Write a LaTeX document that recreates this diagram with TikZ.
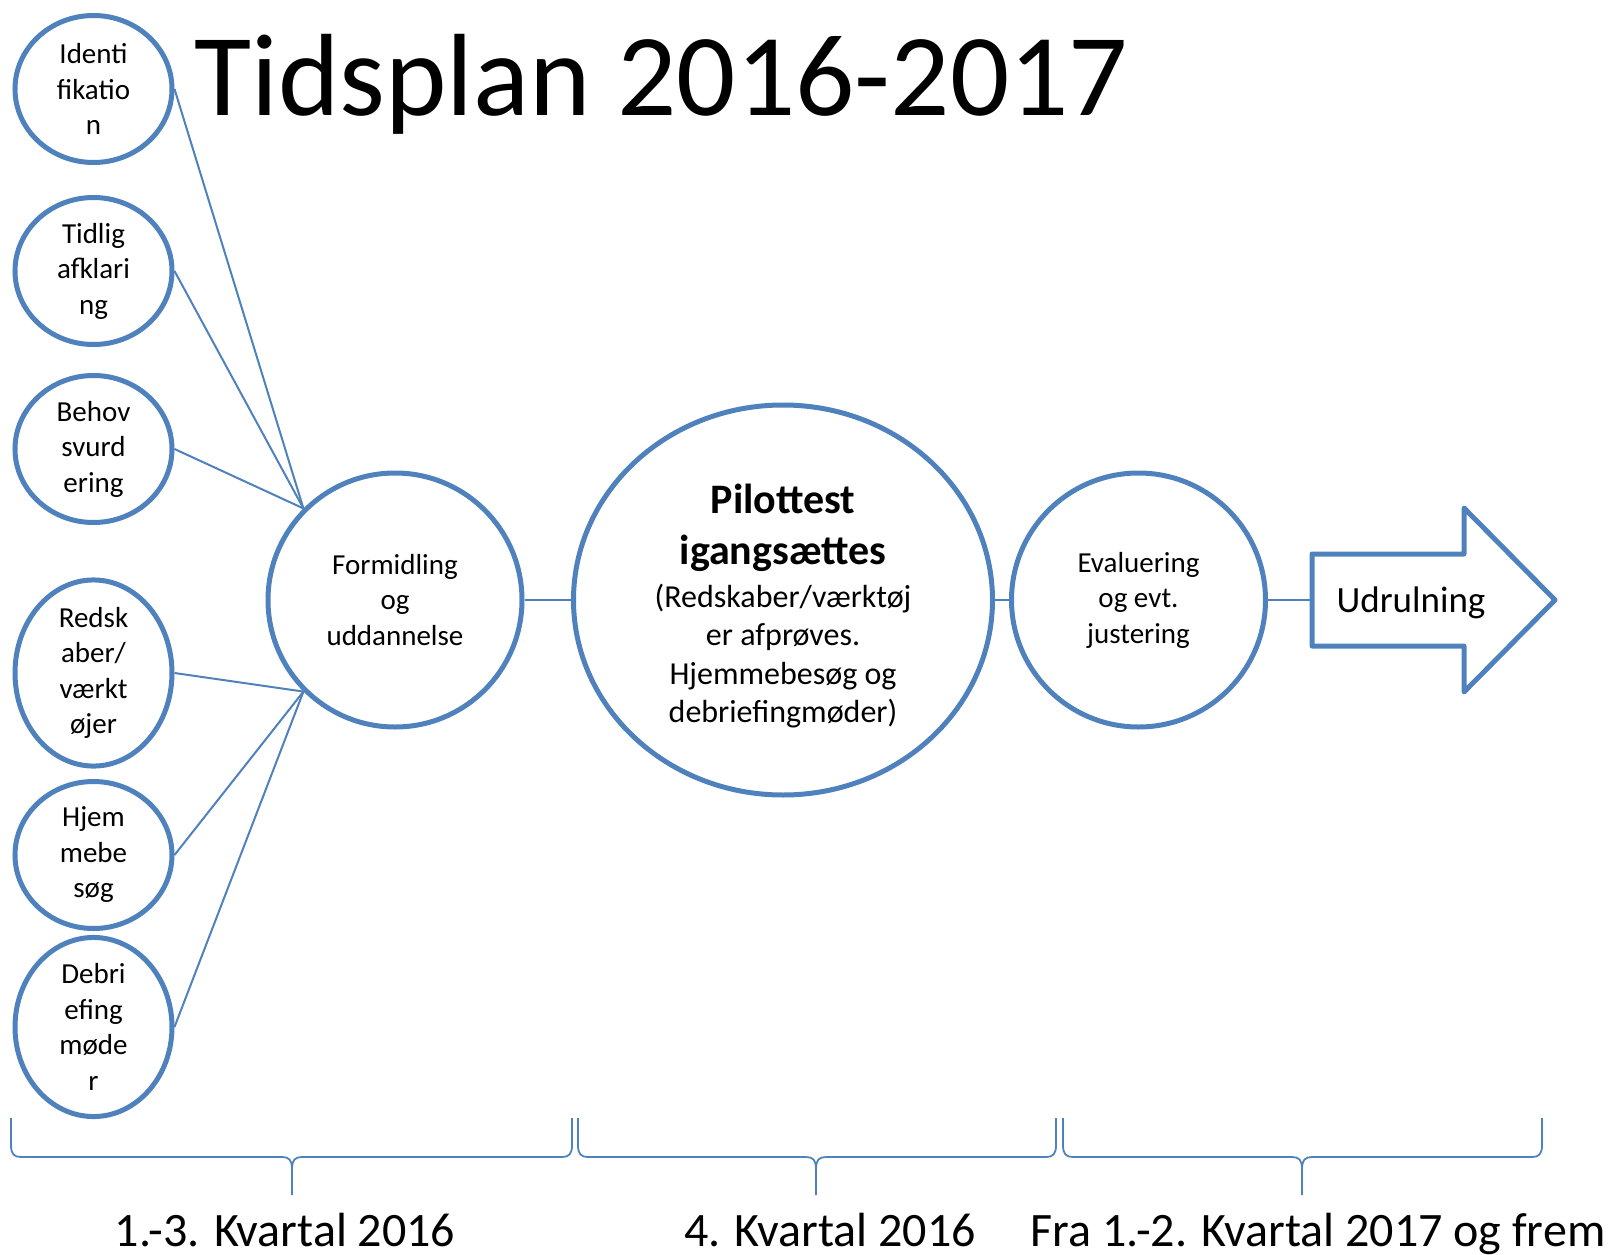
\documentclass[tikz,border=0pt]{standalone}
\usepackage{fontspec}
\setmainfont{Carlito}
\usepackage{xcolor}
\usetikzlibrary{shapes.geometric}
\definecolor{ublue}{RGB}{79,129,189}

\begin{document}
\begin{tikzpicture}[x=1pt,y=-1pt,
    smallbubble/.style={ellipse, draw=ublue, line width=5pt, minimum width=157pt,
        minimum height=147pt, inner sep=0pt, align=center,
        font=\fontsize{29}{35.5}\selectfont},
    bigbubble/.style={circle, draw=ublue, line width=5pt, minimum size=254pt,
        inner sep=0pt, align=center, font=\fontsize{29}{35.5}\selectfont},
    link/.style={draw=ublue, line width=2pt},
    period/.style={anchor=base, font=\fontsize{48}{58}\selectfont}]
\useasboundingbox (0,0) rectangle (1612,1255);
\node[anchor=base west, font=\fontsize{117}{140}\selectfont] (title) at (191,115) {Tidsplan 2016-2017};
% the six small steps on the left
\foreach \name/\ypos/\txt in {ident/89/{Identi\\fikatio\\n}, tidlig/271/{Tidlig\\afklari\\ng},
        behov/449/{Behov\\svurd\\ering}, redsk/673/{Redsk\\aber/\\værkt\\øjer},
        hjem/855/{Hjem\\mebe\\søg}, debri/1027/{Debri\\efing\\møde\\r}}
    \node[smallbubble] (\name) at (93.5,\ypos) {\txt};
\node[bigbubble] (formid) at (395,600) {Formidling\\og\\uddannelse};
\node[ellipse, draw=ublue, line width=5pt, minimum width=419pt, minimum height=390pt,
    inner sep=0pt] (pilot) at (783,600) {};
\node[align=center, font=\fontsize{32}{38.4}\selectfont] (pilottxt) at (783,606)
    {{\bfseries\fontsize{42}{50}\selectfont Pilottest}\\[13pt]
     {\bfseries\fontsize{42}{50}\selectfont igangsættes}\\[4pt]
     (Redskaber/værktøj\\er afprøves.\\Hjemmebesøg og\\debriefingmøder)};
\node[bigbubble] (eval) at (1138.5,600) {Evaluering\\og evt.\\justering};
% arrow
\draw[ublue, line width=5pt, line join=round] (1312,554) -- (1464,554) -- (1464,508) -- (1555,600)
    -- (1464,692) -- (1464,646) -- (1312,646) -- cycle;
\coordinate (arrowtail) at (1312,600);
\node[font=\fontsize{37}{44}\selectfont] (udrul) at (1411,603) {Udrulning};
% connectors
\foreach \name in {ident,tidlig,behov}
    \draw[link] (\name.east) -- (formid.135);
\foreach \name in {redsk,hjem,debri}
    \draw[link] (\name.east) -- (formid.225);
\draw[link] (formid.east) -- (pilot.west);
\draw[link] (pilot.east) -- (eval.west);
\draw[link] (eval.east) -- (arrowtail);
% braces
\foreach \l/\m/\r in {11/292/572, 578/816/1056, 1063/1302/1542}{
    \draw[ublue, line width=1.8pt] (\l,1118) -- (\l,1145) .. controls (\l,1154) and (\l+3,1157) .. (\l+10,1157)
        -- (\m-10,1157) .. controls (\m-3,1157) and (\m,1160) .. (\m,1169) -- (\m,1195);
    \draw[ublue, line width=1.8pt] (\r,1118) -- (\r,1145) .. controls (\r,1154) and (\r-3,1157) .. (\r-10,1157)
        -- (\m+10,1157) .. controls (\m+3,1157) and (\m,1160) .. (\m,1169);
}
\node[period] (q1) at (285,1246) {1.-3. Kvartal 2016};
\node[period] (q4) at (830,1246) {4. Kvartal 2016};
\node[period] (q5) at (1318,1246) {Fra 1.-2. Kvartal 2017 og frem};
\end{tikzpicture}
\end{document}
